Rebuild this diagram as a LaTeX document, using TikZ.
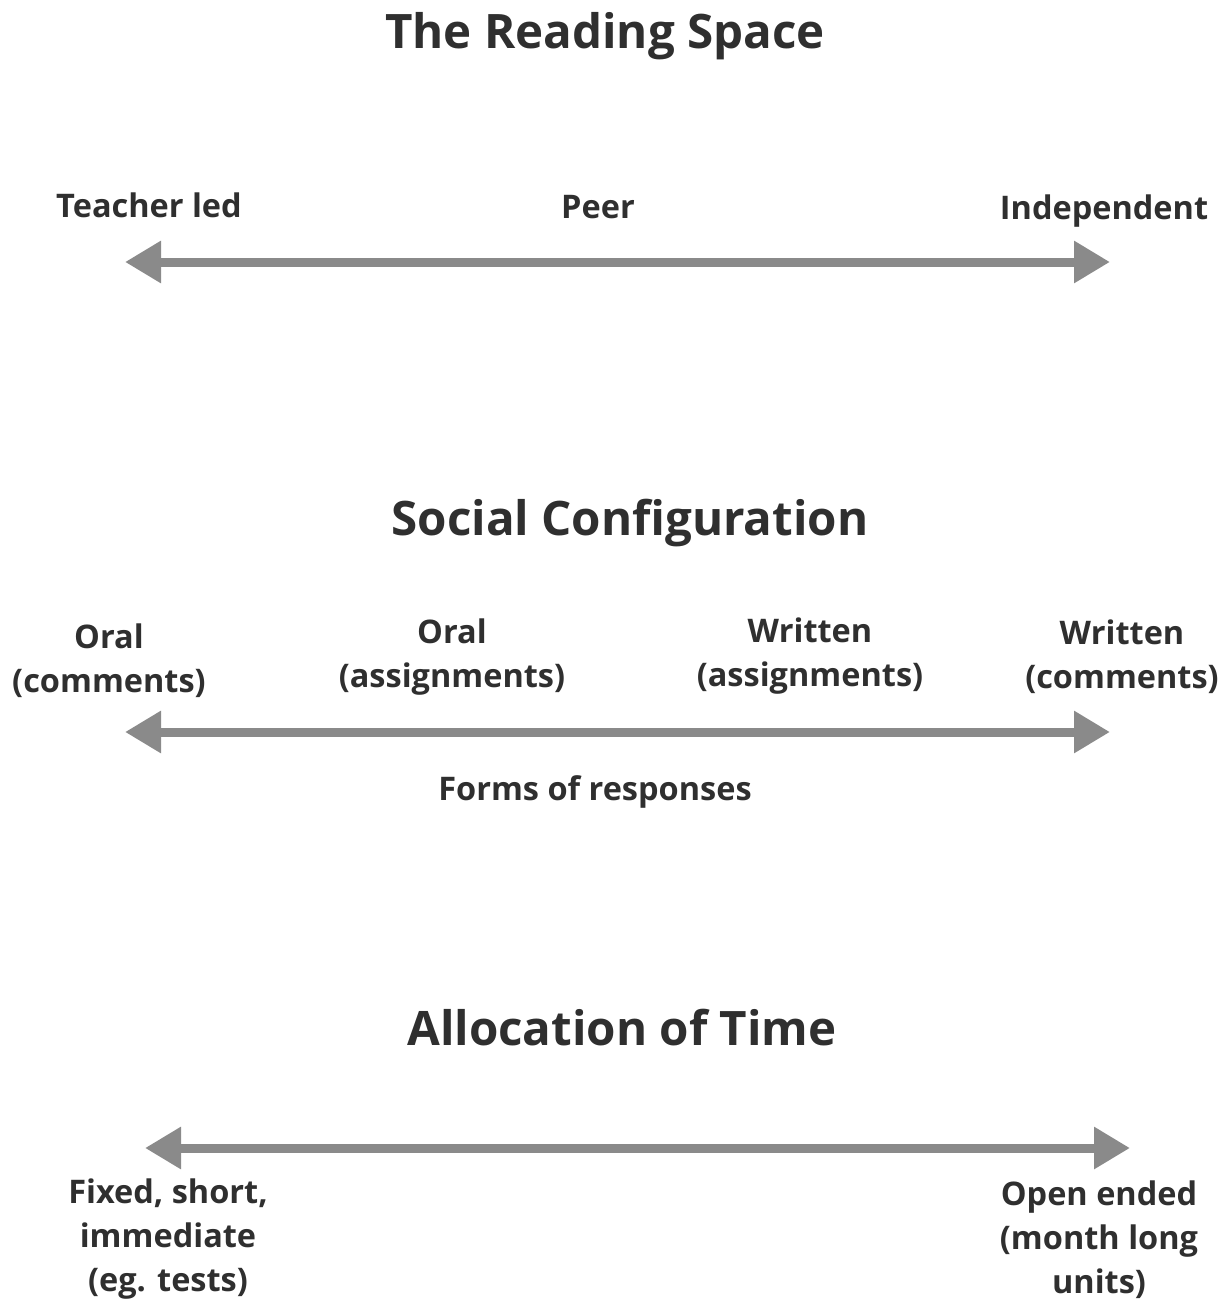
\documentclass[tikz,border=0pt]{standalone}
\usepackage{fontspec}
\setmainfont{Open Sans}
\usetikzlibrary{arrows.meta}
\definecolor{inkgray}{HTML}{2F2F2F}
\definecolor{axisgray}{HTML}{8A8A8A}
\tikzset{
  heading/.style={text=inkgray,font=\bfseries\fontsize{47.5}{52}\selectfont},
  pole/.style={text=inkgray,font=\bfseries\fontsize{32.5}{44}\selectfont,align=center},
  scale arrow/.style={draw=axisgray,line width=9pt,{Triangle[length=36pt,width=40pt]}-{Triangle[length=36pt,width=40pt]}}
}
\begin{document}
\begin{tikzpicture}[x=1pt,y=-1pt]
\useasboundingbox (0,0) rectangle (1228,1300);

% reading space
\node[heading] (space) at (605,36) {The Reading Space};
\coordinate (spaceL) at (125,262);
\coordinate (spaceR) at (1110,262);
\draw[scale arrow] (spaceL) -- (spaceR);
\node[pole] (teacher) at (149,205) {Teacher led};
\node[pole] (peer) at (598,207) {Peer};
\node[pole] (indep) at (1104,211) {Independent};

% social configuration
\node[heading] (social) at (630,523) {Social Configuration};
\coordinate (socialL) at (125,732);
\coordinate (socialR) at (1110,732);
\draw[scale arrow] (socialL) -- (socialR);
\node[pole] (oralcom) at (109,661) {Oral\\(comments)};
\node[pole] (oralass) at (452,657) {Oral\\(assignments)};
\node[pole] (writass) at (810,656) {Written\\(assignments)};
\node[pole] (writcom) at (1122,657) {Written\\(comments)};
\node[pole] (forms) at (595,792) {Forms of responses};

% allocation of time
\node[heading] (time) at (622,1028) {Allocation of Time};
\coordinate (timeL) at (145,1148);
\coordinate (timeR) at (1130,1148);
\draw[scale arrow] (timeL) -- (timeR);
\node[pole] (fixed) at (168,1239) {Fixed, short,\\immediate\\(eg. tests)};
\node[pole] (open) at (1099,1240) {Open ended\\(month long\\units)};
\end{tikzpicture}
\end{document}
